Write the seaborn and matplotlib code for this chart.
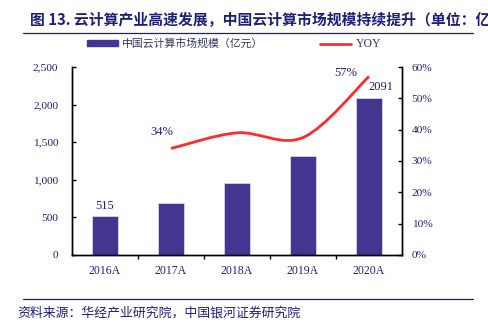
import matplotlib
matplotlib.use("Agg")
import matplotlib.pyplot as plt
import seaborn as sns
import numpy as np
from matplotlib.path import Path
from matplotlib.patches import PathPatch
from matplotlib.lines import Line2D
from matplotlib.patches import Patch
from matplotlib.ticker import FuncFormatter, MultipleLocator

years = ["2016A", "2017A", "2018A", "2019A", "2020A"]
market_size = [515, 691, 962, 1320, 2091]
yoy_years = ["2017A", "2018A", "2019A", "2020A"]
yoy = [34, 39, 37.5, 57]

title = "图 13. 云计算产业高速发展，中国云计算市场规模持续提升（单位：亿元）"
bar_label = "中国云计算市场规模（亿元）"
line_label = "YOY"
source = "资料来源：华经产业研究院，中国银河证券研究院"

sns.set_theme(style="white")
plt.rcParams["font.family"] = ["Noto Sans CJK SC", "DejaVu Sans"]

NAVY = "#1f1f7a"
BAR = "#433691"
RED = "#ff2b2b"
SERIF = ["Liberation Serif", "DejaVu Serif"]

fig = plt.figure(figsize=(4.89, 3.23), dpi=100)
ax = fig.add_axes([72/489, 1-255/323, 330/489, 188/323])

sns.barplot(x=years, y=market_size, color=BAR, width=0.4, ax=ax,
            edgecolor="#d8d4ec", linewidth=0.6, saturation=1)
ax.set_xlim(-0.5, 4.5)
ax.set_ylim(0, 2500)
ax.yaxis.set_major_locator(MultipleLocator(500))
ax.yaxis.set_major_formatter(FuncFormatter(lambda v, p: f"{int(v):,}"))
ax.set_xlabel("")
ax.set_ylabel("")

ax2 = ax.twinx()
ax2.set_ylim(0, 60)
ax2.yaxis.set_major_locator(MultipleLocator(10))
ax2.yaxis.set_major_formatter(FuncFormatter(lambda v, p: f"{int(v)}%"))

# smooth line (Catmull-Rom -> cubic Bezier) in data coordinates
xs = [years.index(y) for y in yoy_years]
pts = np.array(list(zip(xs, yoy)), dtype=float)
ext = np.vstack([pts[0], pts, pts[-1]])
verts = [tuple(pts[0])]
codes = [Path.MOVETO]
for i in range(1, len(ext) - 2):
    p0, p1, p2, p3 = ext[i-1], ext[i], ext[i+1], ext[i+2]
    c1 = p1 + (p2 - p0) / 6.0
    c2 = p2 - (p3 - p1) / 6.0
    verts += [tuple(c1), tuple(c2), tuple(p2)]
    codes += [Path.CURVE4] * 3
ax2.add_patch(PathPatch(Path(verts, codes), facecolor="none", edgecolor=RED,
                        linewidth=2, transform=ax2.transData, capstyle="butt"))

for a in (ax, ax2):
    for s in ["left", "right", "bottom"]:
        a.spines[s].set_visible(True)
        a.spines[s].set_color("black")
        a.spines[s].set_linewidth(1.0)
    a.spines["top"].set_visible(False)

ax.tick_params(axis="y", direction="in", length=3, width=1, colors="black",
               labelcolor=NAVY, labelsize=8.2, pad=10, left=True)
ax2.tick_params(axis="y", direction="in", length=3, width=1, colors="black",
                labelcolor=NAVY, labelsize=8.2, pad=7, right=True)
ax.set_xticks(range(len(years)))
ax.set_xticklabels(years)
ax.set_xticks([0.5, 1.5, 2.5, 3.5], minor=True)
ax.tick_params(axis="x", which="major", length=0, labelcolor=NAVY, labelsize=8.5, pad=7)
ax.tick_params(axis="x", which="minor", direction="out", length=3, width=1,
               colors="black", bottom=True)
for lab in ax.get_xticklabels() + ax.get_yticklabels() + ax2.get_yticklabels():
    lab.set_fontfamily(SERIF)

# data labels
ax.text(0, market_size[0] + 60, f"{market_size[0]}", ha="center", va="bottom",
        color=NAVY, fontsize=9, family=SERIF)
ax.text(4.18, market_size[-1] + 60, f"{market_size[-1]}", ha="center", va="bottom",
        color=NAVY, fontsize=9, family=SERIF)
ax2.text(xs[0] - 0.14, yoy[0] + 3.2, f"{yoy[0]:.0f}%", ha="center", va="bottom",
         color=NAVY, fontsize=9, family=SERIF)
ax2.text(xs[-1] - 0.35, yoy[-1] - 0.7, f"{yoy[-1]:.0f}%", ha="center", va="bottom",
         color=NAVY, fontsize=9, family=SERIF)

# legend
handles = [Patch(facecolor=BAR, edgecolor=BAR), Line2D([], [], color=RED, lw=2)]
leg = fig.legend(handles, [bar_label, line_label], loc="center",
                 bbox_to_anchor=(234/489, 1-44/323), ncol=2, frameon=False,
                 fontsize=7.8, handlelength=2.86, handleheight=0.45,
                 columnspacing=5.2, handletextpad=0.45, borderpad=0, borderaxespad=0)
for t in leg.get_texts():
    t.set_color("#333366")
leg.get_texts()[1].set_fontfamily(SERIF)
leg.get_texts()[1].set_fontsize(8.5)

# title & source
fig.text(30/489, 1-20/323, title, ha="left", va="center", fontsize=10.7,
         fontweight="bold", color=NAVY)
fig.add_artist(Line2D([23/489, 473/489], [1-33/323, 1-33/323], color=NAVY, lw=0.9))
fig.add_artist(Line2D([23/489, 473/489], [1-299/323, 1-299/323], color=NAVY, lw=0.9))
fig.text(17/489, 1-313/323, source, ha="left", va="center", fontsize=9.3,
         color=NAVY, style="italic")

fig.savefig("out.png", dpi=100)
